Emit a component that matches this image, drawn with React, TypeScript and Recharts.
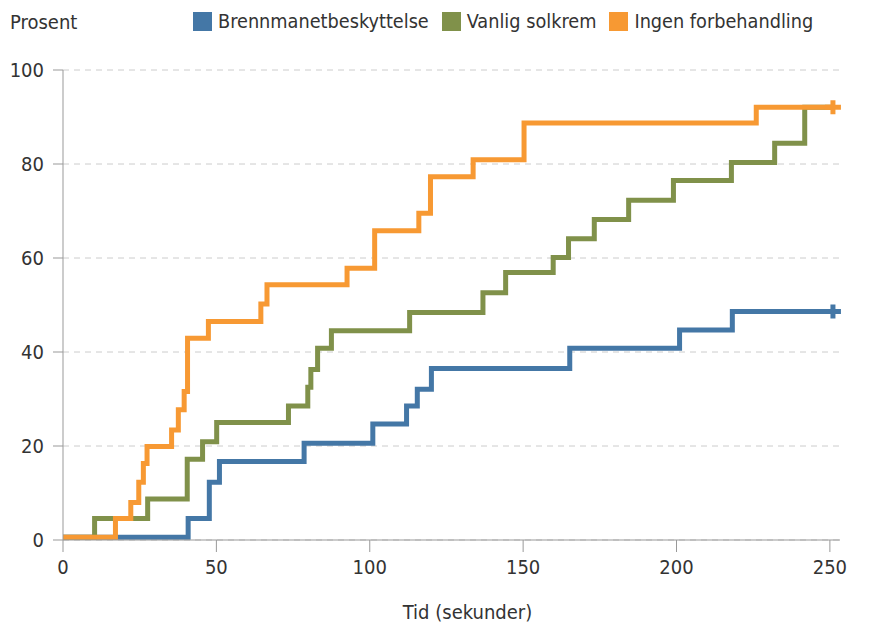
import React from 'react';
import { LineChart, Line, XAxis, YAxis, CartesianGrid } from 'recharts';

// time (seconds) where each step starts, and the percentage from that point on
const blueTimes = [0, 40.8, 47.7, 51, 78.6, 101, 112, 115.5, 120.1, 165.2, 201, 218.2, 251];
const blueValues = [0.6, 4.6, 12.3, 16.7, 20.6, 24.7, 28.5, 32.1, 36.5, 40.8, 44.7, 48.6, 48.6];

const greenTimes = [0, 10.3, 27.6, 40.5, 45.5, 50.1, 73.5, 79.8, 80.8, 83, 87.5, 113, 136.9, 144.3, 159.8, 164.8, 173.2, 184.4, 199, 217.9, 232, 241.8, 251];
const greenValues = [0.6, 4.6, 8.7, 17.2, 20.9, 25.0, 28.5, 32.5, 36.3, 40.8, 44.5, 48.4, 52.6, 56.9, 60.1, 64.1, 68.2, 72.3, 76.5, 80.3, 84.4, 92.1, 92.1];

const orangeTimes = [0, 17.1, 22.1, 24.7, 26.2, 27.4, 35.4, 37.6, 39.5, 40.6, 47.4, 64.5, 66.5, 92.6, 101.6, 116, 119.8, 133.7, 150.3, 226, 251];
const orangeValues = [0.6, 4.6, 8.0, 12.3, 16.3, 19.9, 23.4, 27.7, 31.6, 42.9, 46.5, 50.2, 54.3, 57.8, 65.8, 69.5, 77.3, 80.9, 88.7, 92.1, 92.1];

const xTicks = [0, 50, 100, 150, 200, 250];
const yTicks = [0, 20, 40, 60, 80, 100];

const FONT = '"DejaVu Sans Condensed", "DejaVu Sans", sans-serif';
const TEXT = '#333333';
const SIZE = 20;

const toPoints = (times: number[], values: number[]) =>
  times.map((t, i) => ({ t, v: values[i] }));

const series = [
  { name: 'Brennmanetbeskyttelse', color: '#4477a6', data: toPoints(blueTimes, blueValues), censored: true },
  { name: 'Vanlig solkrem', color: '#80914a', data: toPoints(greenTimes, greenValues), censored: false },
  { name: 'Ingen forbehandling', color: '#f79933', data: toPoints(orangeTimes, orangeValues), censored: true },
];

// "+" marker at the last point of a censored curve
const endMarker = (color: string, last: number, show: boolean) => (props: any) => {
  const { cx, cy, index } = props;
  if (!show || index !== last) return <g key={`d-${index}`} />;
  return (
    <path
      key={`d-${index}`}
      d={`M${cx - 8},${cy}H${cx + 8}M${cx},${cy - 7}V${cy + 7}`}
      stroke={color}
      strokeWidth={5}
      fill="none"
    />
  );
};

export default function App() {
  return (
    <div style={{ position: 'absolute', left: 0, top: 0, width: 871, height: 625, background: '#fff' }}>
      <div
        style={{
          position: 'absolute',
          left: 10,
          top: 10,
          fontFamily: FONT,
          fontSize: SIZE,
          color: TEXT,
        }}
      >
        Prosent
      </div>
      <div
        style={{
          position: 'absolute',
          left: 193,
          top: 10,
          display: 'flex',
          alignItems: 'center',
          fontFamily: FONT,
          fontSize: 19.7,
          color: TEXT,
          whiteSpace: 'nowrap',
        }}
      >
        {series.map((s) => (
          <div key={s.name} style={{ display: 'flex', alignItems: 'center', marginRight: 13 }}>
            <span style={{ width: 19, height: 19, background: s.color, display: 'inline-block', marginRight: 6 }} />
            <span>{s.name}</span>
          </div>
        ))}
      </div>
      <LineChart
        width={871}
        height={625}
        margin={{ top: 70, right: 31, bottom: 0, left: 0 }}
        style={{ fontFamily: FONT, position: 'absolute', left: 0, top: 0 }}
      >
        <CartesianGrid vertical={false} stroke="#cccccc" strokeDasharray="6 5" />
        <XAxis
          type="number"
          dataKey="t"
          domain={[0, 253.3]}
          ticks={xTicks}
          allowDuplicatedCategory={false}
          height={85}
          stroke="#999999"
          tickSize={12}
          tickMargin={8}
          tick={{ fill: TEXT, fontSize: SIZE }}
          label={{ value: 'Tid (sekunder)', position: 'insideBottom', offset: 6, dx: 16, fill: TEXT, fontSize: SIZE }}
        />
        <YAxis
          type="number"
          domain={[0, 100]}
          ticks={yTicks}
          width={63}
          stroke="#999999"
          tickSize={10}
          tickMargin={9}
          tick={{ fill: TEXT, fontSize: SIZE }}
        />
        {series.map((s) => (
          <Line
            key={s.name}
            data={s.data}
            dataKey="v"
            name={s.name}
            type="stepAfter"
            stroke={s.color}
            strokeWidth={5}
            strokeLinecap="butt"
            strokeLinejoin="miter"
            dot={endMarker(s.color, s.data.length - 1, s.censored)}
            activeDot={false}
            isAnimationActive={false}
          />
        ))}
      </LineChart>
    </div>
  );
}
